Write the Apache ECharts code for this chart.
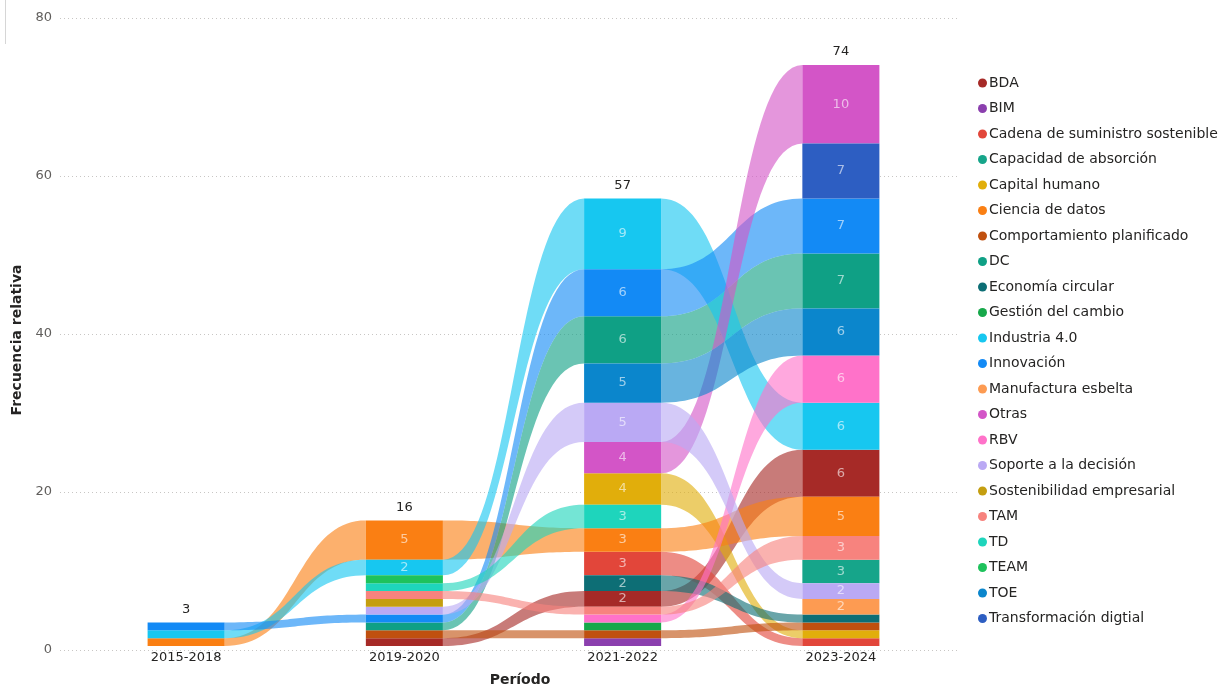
<!DOCTYPE html>
<html>
<head>
<meta charset="utf-8">
<script src="https://cdn.jsdelivr.net/npm/echarts@6/dist/echarts.min.js"></script>
<style>
  html, body { margin: 0; padding: 0; background: #ffffff; }
  #chart { width: 1231px; height: 692px; }
</style>
</head>
<body>
<div id="chart"></div>
<script>
// Periods on the x axis
const periods = ['2015-2018', '2019-2020', '2021-2022', '2023-2024'];

// Research topics (legend order)
const topics = [
  'BDA', 'BIM', 'Cadena de suministro sostenible', 'Capacidad de absorción',
  'Capital humano', 'Ciencia de datos', 'Comportamiento planificado', 'DC',
  'Economía circular', 'Gestión del cambio', 'Industria 4.0', 'Innovación',
  'Manufactura esbelta', 'Otras', 'RBV', 'Soporte a la decisión',
  'Sostenibilidad empresarial', 'TAM', 'TD', 'TEAM', 'TOE', 'Transformación digtial'
];

const topicColors = [
  '#A62A27', '#8B3FAE', '#E2463A', '#16A58A',
  '#E1AE0B', '#FA7F13', '#C0500F', '#0FA085',
  '#0D6E75', '#16A84A', '#17C7F0', '#138AF5',
  '#FD9B52', '#D355C7', '#FF72C9', '#BAA9F4',
  '#C49E10', '#F7837E', '#1ED5BC', '#1EC25C', '#0B86CC', '#2D5EC2'
];

// Frequency of each topic per period (same order as topics; 0 = not present)
const p2015_2018 = [0, 0, 0, 0, 0, 1, 0, 0, 0, 0, 1, 1, 0, 0, 0, 0, 0, 0, 0, 0, 0, 0];
const p2019_2020 = [1, 0, 0, 0, 0, 5, 1, 1, 0, 0, 2, 1, 0, 0, 0, 1, 1, 1, 1, 1, 0, 0];
const p2021_2022 = [2, 1, 3, 0, 4, 3, 1, 6, 2, 1, 9, 6, 0, 4, 1, 5, 0, 1, 3, 0, 5, 0];
const p2023_2024 = [6, 0, 1, 3, 1, 5, 1, 7, 1, 0, 6, 7, 2, 10, 6, 2, 0, 3, 0, 0, 6, 7];

const yTicks = { min: 0, max: 80, interval: 20 };

const FONT = 'DejaVu Sans';
const BAR_RATIO = 0.353;
const RIBBON_OPACITY = 0.62;

const periodValues = [p2015_2018, p2019_2020, p2021_2022, p2023_2024];

// Stack each period: smaller values at the bottom, ties kept in legend order
const bands = periodValues.map(vals => {
  const order = topics.map((_, i) => i)
    .filter(i => vals[i] > 0)
    .sort((a, b) => (vals[a] - vals[b]) || (a - b));
  const out = {};
  let acc = 0;
  order.forEach(i => { out[i] = [acc, acc + vals[i]]; acc += vals[i]; });
  return out;
});
const totals = periodValues.map(v => v.reduce((s, x) => s + x, 0));

function bez(p0, p1, p2, p3, t) {
  const u = 1 - t;
  return u * u * u * p0 + 3 * u * u * t * p1 + 3 * u * t * t * p2 + t * t * t * p3;
}

function ribbonPoints(xs, xe, ts, te, bs, be) {
  const N = 40;
  const xm = (xs + xe) / 2;
  const pts = [];
  for (let i = 0; i <= N; i++) {
    const t = i / N;
    pts.push([bez(xs, xm, xm, xe, t), bez(ts, ts, te, te, t)]);
  }
  for (let i = N; i >= 0; i--) {
    const t = i / N;
    pts.push([bez(xs, xm, xm, xe, t), bez(bs, bs, be, be, t)]);
  }
  return pts;
}

function renderTopic(params, api) {
  const k = api.value(0);
  const y0 = api.value(1);
  const y1 = api.value(2);
  const v = api.value(3);
  const n0 = api.value(4);
  const n1 = api.value(5);
  const color = api.visual('color');
  const barW = api.size([1, 0])[0] * BAR_RATIO;
  const top = api.coord([k, y1]);
  const bot = api.coord([k, y0]);
  const children = [];

  // ribbon to the next period
  if (n1 > 0) {
    const nTop = api.coord([k + 1, n1]);
    const nBot = api.coord([k + 1, n0]);
    const xs = top[0] + barW / 2;
    const xe = nTop[0] - barW / 2;
    children.push({
      type: 'polygon',
      z2: 1,
      shape: { points: ribbonPoints(xs, xe, top[1], nTop[1], bot[1], nBot[1]) },
      style: { fill: color, opacity: RIBBON_OPACITY }
    });
  }

  // segment of the period column
  children.push({
    type: 'rect',
    z2: 10,
    shape: { x: top[0] - barW / 2, y: top[1], width: barW, height: bot[1] - top[1] },
    style: { fill: color }
  });

  if (v >= 2) {
    children.push({
      type: 'text',
      z2: 12,
      style: {
        text: String(v),
        x: top[0],
        y: (top[1] + bot[1]) / 2,
        align: 'center',
        verticalAlign: 'middle',
        fill: 'rgba(255,255,255,0.6)',
        font: '13px "' + FONT + '"'
      }
    });
  }
  return { type: 'group', children };
}

const topicSeries = topics.map((name, t) => {
  const data = [];
  periods.forEach((p, k) => {
    const b = bands[k][t];
    if (!b) return;
    const nb = k + 1 < periods.length ? bands[k + 1][t] : null;
    data.push([k, b[0], b[1], periodValues[k][t], nb ? nb[0] : -1, nb ? nb[1] : -1]);
  });
  return {
    type: 'custom',
    name,
    xAxisIndex: 1,
    yAxisIndex: 1,
    itemStyle: { color: topicColors[t] },
    encode: { x: 0, y: [1, 2] },
    renderItem: renderTopic,
    data
  };
});

const totalSeries = {
  type: 'custom',
  name: 'Total',
  xAxisIndex: 1,
  yAxisIndex: 1,
  encode: { x: 0, y: 1 },
  data: totals.map((v, k) => [k, v]),
  renderItem: (params, api) => {
    const p = api.coord([api.value(0), api.value(1)]);
    return {
      type: 'text',
      z2: 20,
      style: {
        text: String(api.value(1)),
        x: p[0],
        y: p[1] - 13,
        align: 'center',
        verticalAlign: 'middle',
        fill: '#252423',
        font: '13px "' + FONT + '"'
      }
    };
  }
};

const chart = echarts.init(document.getElementById('chart'), null, { renderer: 'canvas' });
chart.setOption({
  animation: false,
  backgroundColor: '#ffffff',
  textStyle: { fontFamily: FONT },
  grid: [
    { left: 60, right: 273, top: 18, bottom: 42 },
    { left: 77, right: 281, top: 18, bottom: 42 }
  ],
  legend: {
    data: topics,
    orient: 'vertical',
    left: 973,
    top: 70,
    icon: 'circle',
    itemWidth: 9,
    itemHeight: 9,
    itemGap: 9.5,
    textStyle: { fontSize: 14, fontFamily: FONT, color: '#252423', lineHeight: 16, padding: [0, 0, 0, -3] }
  },
  xAxis: [
    { type: 'value', gridIndex: 0, min: 0, max: 1, show: false },
    {
      type: 'category',
      gridIndex: 1,
      data: periods,
      axisLine: { show: false },
      axisTick: { show: false },
      axisLabel: { color: '#252423', fontSize: 13, fontFamily: FONT, margin: 5 },
      name: 'Período',
      nameLocation: 'middle',
      nameGap: 27,
      nameTextStyle: { fontSize: 14, fontWeight: 'bold', fontFamily: FONT, color: '#252423', padding: [0, 0, 0, 13] }
    }
  ],
  yAxis: [
    {
      type: 'value',
      gridIndex: 0,
      min: yTicks.min,
      max: yTicks.max,
      interval: yTicks.interval,
      axisLine: { show: false },
      axisTick: { show: false },
      axisLabel: { color: '#605E5C', fontSize: 13, fontFamily: FONT, margin: 8 },
      splitLine: { lineStyle: { color: '#C8C6C4', type: [1, 3], width: 1 } },
      name: 'Frecuencia relativa',
      nameLocation: 'middle',
      nameGap: 34,
      nameTextStyle: { fontSize: 14, fontWeight: 'bold', fontFamily: FONT, color: '#252423', padding: [0, 12, 0, 0] }
    },
    { type: 'value', gridIndex: 1, min: yTicks.min, max: yTicks.max, show: false }
  ],
  graphic: [
    { type: 'line', shape: { x1: 5.5, y1: 0, x2: 5.5, y2: 44 }, style: { stroke: '#D6D6D6', lineWidth: 1 } }
  ],
  series: topicSeries.concat([totalSeries])
});
</script>
</body>
</html>
